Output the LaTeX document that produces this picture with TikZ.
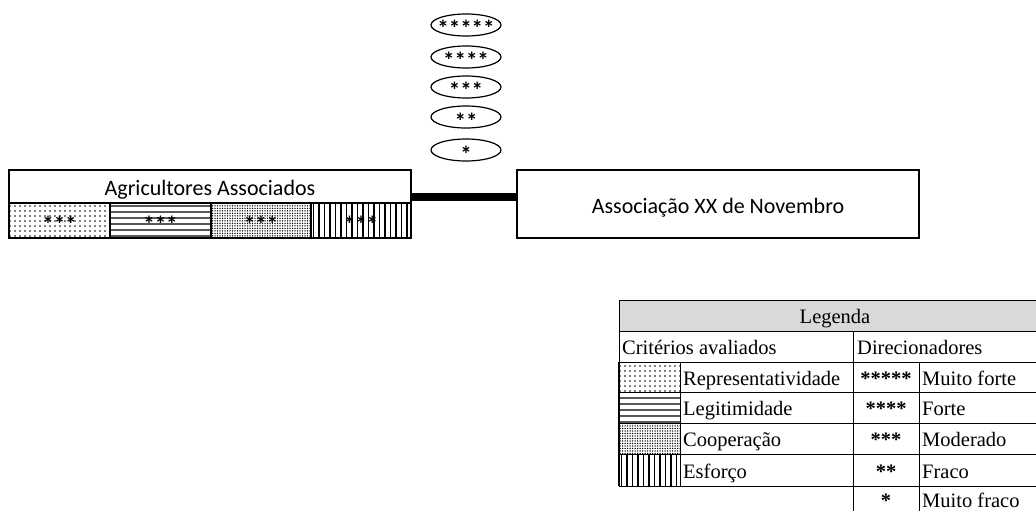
\documentclass[tikz,border=0pt]{standalone}
\usepackage{fontspec}
\setmainfont{Liberation Serif}
\newfontfamily\calfont{Carlito}
\usetikzlibrary{patterns.meta,shapes.geometric}
\begin{document}
\begin{tikzpicture}[x=1pt,y=-1pt,
  boxtxt/.style={font=\calfont\fontsize{22}{26}\selectfont, inner sep=0pt},
  startxt/.style={font=\calfont\bfseries\fontsize{23}{27}\selectfont, inner sep=0pt, text height=1em, text depth=0pt, yshift=-7pt},
  legtxt/.style={font=\fontsize{20.5}{24}\selectfont, inner sep=0pt},
  legstar/.style={font=\bfseries\fontsize{20.5}{24}\selectfont, inner sep=0pt},
  ell/.style={draw, line width=1.2pt, ellipse, minimum width=70pt, minimum height=22pt, inner sep=0pt},
  bigbox/.style={draw, line width=1.6pt, rectangle, inner sep=0pt},
  cellline/.style={line width=1.6pt},
  tline/.style={line width=1pt},
  pdots/.style={pattern={Dots[distance=5pt, radius=0.8pt]}},
  phor/.style={pattern={Lines[angle=0, distance=6.4pt, line width=1.2pt]}},
  pdense/.style={pattern={Dots[distance=2.5pt, radius=0.75pt]}},
  pvert/.style={pattern={Lines[angle=90, distance=5.5pt, line width=1.2pt]}},
  conn/.style={line width=8pt}
]
\useasboundingbox (0,0) rectangle (1036,511);

% ellipses
\foreach \n/\yy/\s in {5/25/*****,4/57/****,3/87/***,2/117/**,1/150/*}{
  \node[ell] (e\n) at (466,\yy) {};
  \node[startxt] (s\n) at (e\n) {\s};
}

% left box
\node[bigbox, minimum width=402pt, minimum height=68pt] (agri) at (210,204) {};
\node[boxtxt, anchor=base] (agrit) at (210,195) {Agricultores Associados};
\draw[pdots] (9,203) rectangle (110,238);
\draw[phor] (110,203) rectangle (211,238);
\draw[pdense] (211,203) rectangle (311,238);
\draw[pvert] (311,203) rectangle (411,238);
\draw[cellline] (9,203) -- (411,203);
\foreach \x in {110,211,311}{ \draw[cellline] (\x,203) -- (\x,238); }
\node[bigbox, minimum width=402pt, minimum height=68pt] (agri2) at (210,204) {};
\foreach \i/\x in {1/59.5,2/160.5,3/261,4/361}{
  \node[startxt] (c\i) at (\x,220.5) {***};
}

% right box
\node[bigbox, minimum width=402pt, minimum height=68pt] (assoc) at (718,204) {};
\node[boxtxt, anchor=base] (assoct) at (718,213) {Associação XX de Novembro};

% connector
\draw[conn] ([yshift=7pt]agri.east) -- ([yshift=7pt]assoc.west);

% legend table
\fill[black!15] (619,300) rectangle (1051,331);
\draw[pdots] (619,362) rectangle (680,392);
\draw[phor] (619,392) rectangle (680,423);
\draw[pdense] (619,423) rectangle (680,454);
\draw[pvert] (619,454) rectangle (680,486);
\foreach \yy in {300,331,362,392,423,454,486}{ \draw[tline] (619,\yy) -- (1051,\yy); }
\draw[tline] (853,517) -- (1051,517);
\draw[tline] (619,300) -- (619,486);
\draw[line width=1.6pt] (619,362) -- (619,486);
\draw[tline] (680,362) -- (680,486);
\draw[tline] (853,331) -- (853,517);
\draw[tline] (919,362) -- (919,517);
\draw[tline] (1051,300) -- (1051,517);

\node[legtxt, anchor=base] (lg) at (835,323.5) {Legenda};
\node[legtxt, anchor=base west] (lc) at (622,354.5) {Critérios avaliados};
\node[legtxt, anchor=base west] (ld) at (857,354.5) {Direcionadores};
\foreach \i/\b/\t/\s/\u in {1/385/Representatividade/*****/Muito forte,
                            2/415.5/Legitimidade/****/Forte,
                            3/446.5/Cooperação/***/Moderado,
                            4/478/Esforço/**/Fraco}{
  \node[legtxt, anchor=base west] (lt\i) at (683,\b) {\t};
  \node[legstar, anchor=base] (ls\i) at (886,\b) {\s};
  \node[legtxt, anchor=base west] (lu\i) at (922,\b) {\u};
}
\node[legstar, anchor=base] (ls5) at (886,507) {*};
\node[legtxt, anchor=base west] (lu5) at (922,507) {Muito fraco};
\end{tikzpicture}
\end{document}
